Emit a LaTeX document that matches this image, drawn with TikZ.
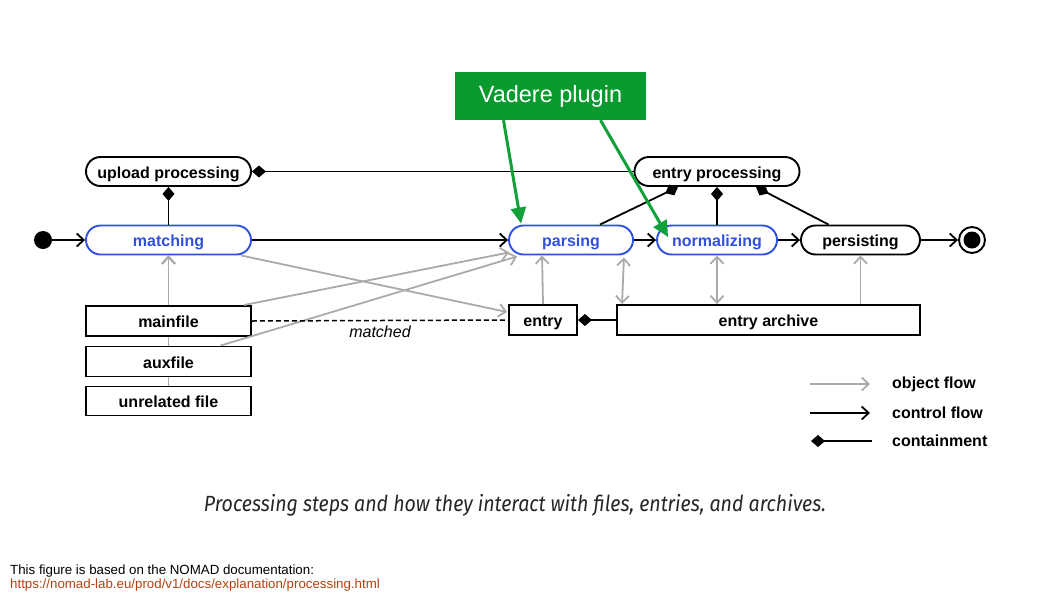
\documentclass[tikz,border=0pt]{standalone}
\usepackage{fontspec}
\setmainfont{Liberation Sans}
\newfontfamily\capfont{Fira Sans}
\usetikzlibrary{arrows.meta,calc}
\definecolor{nblue}{HTML}{3050E0}
\definecolor{ogray}{HTML}{AAAAAA}
\definecolor{vgreen}{HTML}{089A2E}
\definecolor{agreen}{HTML}{12A03A}
\definecolor{urlred}{HTML}{B5420E}
\begin{document}
\begin{tikzpicture}[x=1pt,y=-1pt,
  every node/.style={font=\fontsize{16}{18}\selectfont\bfseries, inner sep=0pt},
  txt/.style={text height=13pt, text depth=0pt},
  state/.style={txt, draw=black, line width=1.9pt, fill=white, rounded corners=14.5pt, minimum height=29pt},
  bstate/.style={state, draw=nblue, text=nblue},
  obj/.style={txt, draw=black, line width=1.9pt, fill=white, minimum height=30pt},
  ctrl/.style={draw=black, line width=1.8pt, -{Straight Barb[length=7pt,width=13pt,line width=1.8pt]}},
  oflow/.style={draw=ogray, line width=1.8pt, -{Straight Barb[length=7pt,width=13pt,line width=1.8pt]}},
  oboth/.style={draw=ogray, line width=1.8pt, {Straight Barb[length=7pt,width=13pt,line width=1.8pt]}-{Straight Barb[length=7pt,width=13pt,line width=1.8pt]}},
  cont/.style={draw=black, line width=1.8pt, {Diamond[length=14pt,width=12pt]}-},
  garrow/.style={draw=agreen, line width=3pt, -{Triangle[length=16pt,width=15pt]}},
]
\useasboundingbox (0,0) rectangle (1058,595);

% nodes
\node[bstate, minimum width=165pt] (matching) at (168.5,240) {matching};
\node[state, minimum width=165pt] (upload) at (168.5,171.5) {upload processing};
\node[bstate, minimum width=124pt] (parsing) at (571,240) {parsing};
\node[bstate, minimum width=120pt] (normalizing) at (717,240) {normalizing};
\node[state, minimum width=119pt] (persisting) at (860.5,240) {persisting};
\node[state, minimum width=165pt] (entryproc) at (717,171.5) {entry processing};
\node[circle, fill=black, minimum size=18pt] (init) at (43,240) {};
\node[circle, draw=black, line width=1.9pt, minimum size=26pt] (final) at (972,240) {};
\node[circle, fill=black, minimum size=17pt] (finalin) at (972,240) {};

% gray object flows behind file boxes
\draw[oflow] (168.5,386) coordinate (uft) -- (matching.south);
\draw[oflow] (168.5,346) coordinate (aft) -- (matching.south);

\node[obj, minimum width=165pt] (mainfile) at (168.5,321) {mainfile};
\node[obj, minimum width=165pt] (auxfile) at (168.5,361.5) {auxfile};
\node[obj, minimum width=165pt, minimum height=29pt] (unrelated) at (168.5,401) {unrelated file};
\node[obj, minimum width=68pt] (entry) at (543,320) {entry};
\node[obj, minimum width=303pt] (archive) at (768.5,320) {entry archive};

% control flow
\draw[ctrl] (init) -- (matching);
\draw[ctrl] (matching) -- (parsing);
\draw[ctrl] (parsing) -- (normalizing);
\draw[ctrl] (normalizing) -- (persisting);
\draw[ctrl] (persisting) -- (final);

% containment
\draw[cont] (upload.east) -- (entryproc.west);
\draw[cont] (upload.south) -- (matching.north);
\draw[cont] ($(entryproc.south)+(-39,0)$) -- ($(parsing.north)+(29,0)$);
\draw[cont] (entryproc.south) -- (normalizing.north);
\draw[cont] ($(entryproc.south)+(39,0)$) -- ($(persisting.north)+(-32,0)$);
\draw[cont] (entry.east) -- (archive.west);

% object flows
\draw[oflow] (mainfile.north) -- (matching.south);
\draw[oflow] ($(matching.south east)+(-11,0)$) -- ($(entry.west)+(-1,-8)$);
\draw[oflow] ($(mainfile.north east)+(-8,0)$) -- ($(parsing.south west)+(1,-3)$);
\draw[oflow] ($(auxfile.north)+(52,0)$) -- ($(parsing.south west)+(9,1)$);
\draw[oflow] (entry.north) -- ($(parsing.south west)+(34,0)$);
\draw[oboth] ($(archive.north west)+(6,0)$) -- ($(parsing.south east)+(-10,2)$);
\draw[oboth] (archive.north -| normalizing.south) -- (normalizing.south);
\draw[oflow] (archive.north -| persisting.south) -- (persisting.south);

% matched dashed
\draw[line width=1.5pt, dash pattern=on 5pt off 3pt] (mainfile.east) -- node[below=5pt, font=\fontsize{16}{18}\selectfont\itshape] (matchedlbl) {matched} (entry.west);

% Vadere plugin
\node[fill=vgreen, text=white, minimum width=191pt, minimum height=48pt, font=\fontsize{23.5}{26}\selectfont] (vadere) at (550.5,96) {Vadere plugin};
\draw[garrow] ($(vadere.south)+(-47,0)$) -- ($(parsing.north west)+(13,-1)$);
\draw[garrow] ($(vadere.south)+(50,0)$) -- ($(normalizing.west)+(12,-3)$);

% legend
\coordinate (l1a) at (810,384); \coordinate (l1b) at (870,384);
\coordinate (l2a) at (810,413); \coordinate (l2b) at (870,413);
\coordinate (l3a) at (811,441); \coordinate (l3b) at (872,441);
\draw[oflow] (l1a) -- (l1b);
\draw[ctrl] (l2a) -- (l2b);
\draw[cont] (l3a) -- (l3b);
\node[anchor=west] (lg1) at (892,384) {object flow};
\node[anchor=west] (lg2) at (892,413) {control flow};
\node[anchor=west] (lg3) at (892,441) {containment};

% caption
\node[font=\capfont\fontsize{22}{26}\selectfont\itshape, text=black!85] (caption) at (515,505) {\scalebox{0.89}[1]{Processing steps and how they interact with files, entries, and archives.}};

% footer
\node[anchor=west, font=\fontsize{13.3}{15}\selectfont] (foot1) at (10,571) {This figure is based on the NOMAD documentation:};
\node[anchor=west, font=\fontsize{13.3}{15}\selectfont, text=urlred] (foot2) at (10,585) {https://nomad-lab.eu/prod/v1/docs/explanation/processing.html};
\end{tikzpicture}
\end{document}
